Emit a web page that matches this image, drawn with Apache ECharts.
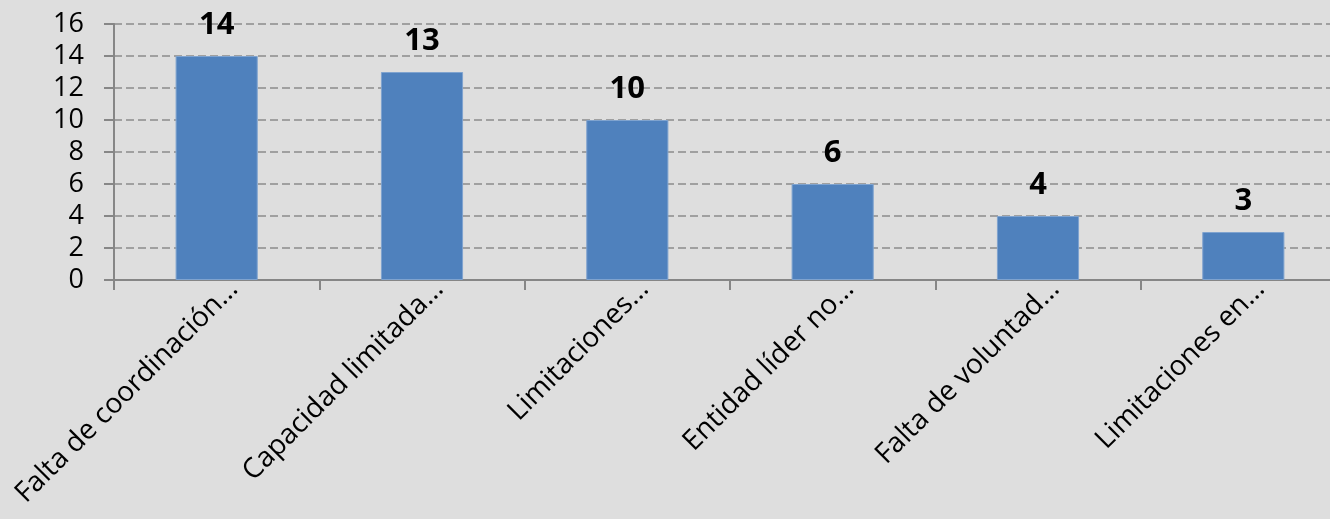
<!DOCTYPE html>
<html><head><meta charset="utf-8">
<script src="https://cdn.jsdelivr.net/npm/echarts@6/dist/echarts.min.js"></script>
<style>html,body{margin:0;padding:0;background:#dedede;}#c{width:1330px;height:519px;}</style>
</head><body><div id="c"></div>
<script>
const categories = ["Falta de coordinación…", "Capacidad limitada…", "Limitaciones…", "Entidad líder no…", "Falta de voluntad…", "Limitaciones en…"];
const values = [14, 13, 10, 6, 4, 3];
const yMin = 0, yMax = 16, yStep = 2;

const chart = echarts.init(document.getElementById('c'));
chart.setOption({
  backgroundColor: '#dedede',
  animation: false,
  grid: { left: 114, top: 24, width: 1232, height: 256, containLabel: false, outerBoundsMode: 'none' },
  xAxis: {
    type: 'category', data: categories,
    axisLine: { lineStyle: { color: '#868686', width: 2 } },
    axisTick: { show: true, length: 10, lineStyle: { color: '#868686', width: 2 } },
    axisLabel: { rotate: 45, margin: 2, padding: [0, -10, 0, 0], align: 'right', verticalAlign: 'top', fontFamily: 'Open Sans', fontSize: 28, color: '#000', interval: 0 }
  },
  yAxis: {
    type: 'value', min: yMin, max: yMax, interval: yStep,
    axisLine: { show: true, lineStyle: { color: '#868686', width: 2 } },
    axisTick: { show: true, length: 10, lineStyle: { color: '#868686', width: 2 } },
    axisLabel: { margin: 30, fontFamily: 'Open Sans', fontSize: 27, color: '#000' },
    splitLine: { lineStyle: { color: '#8c8c8c', type: [8, 4], width: 1.5 } }
  },
  series: [{
    type: 'bar', data: values, barWidth: '40%',
    itemStyle: { color: '#4f81bd', borderColor: '#7fa3cf', borderWidth: 1 },
    label: { show: true, position: 'top', distance: 15, fontFamily: 'Open Sans', fontWeight: 'bold', fontSize: 31, color: '#000' }
  }]
});
</script></body></html>
